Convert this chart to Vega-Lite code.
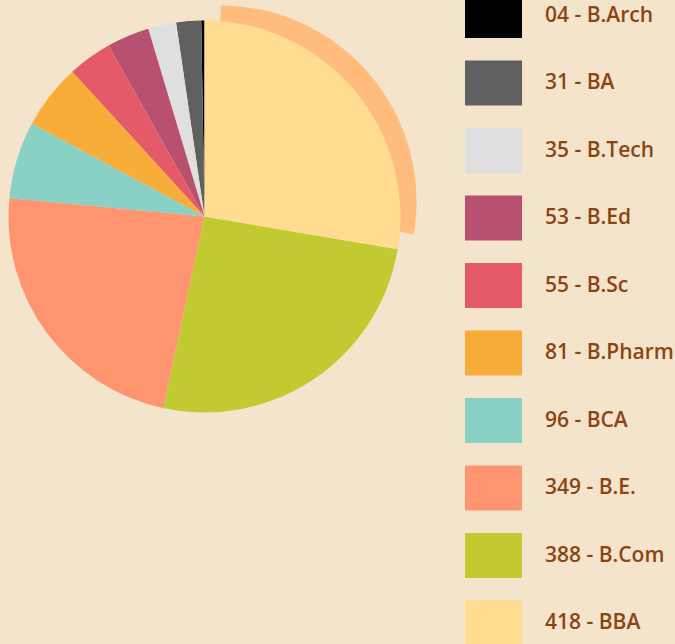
{
  "$schema": "https://vega.github.io/schema/vega-lite/v6.json",
  "width": 409,
  "height": 433,
  "padding": {"left": 0, "top": 0, "right": 266, "bottom": 211},
  "autosize": {"type": "none"},
  "background": "#F5E4CC",
  "config": {"view": {"stroke": null}},
  "data": {
    "values": [
      {"course": "B.Arch", "value": 4, "label": "04 - B.Arch"},
      {"course": "BA", "value": 31, "label": "31 - BA"},
      {"course": "B.Tech", "value": 35, "label": "35 - B.Tech"},
      {"course": "B.Ed", "value": 53, "label": "53 - B.Ed"},
      {"course": "B.Sc", "value": 55, "label": "55 - B.Sc"},
      {"course": "B.Pharm", "value": 81, "label": "81 - B.Pharm"},
      {"course": "BCA", "value": 96, "label": "96 - BCA"},
      {"course": "B.E.", "value": 349, "label": "349 - B.E."},
      {"course": "B.Com", "value": 388, "label": "388 - B.Com"},
      {"course": "BBA", "value": 418, "label": "418 - BBA"}
    ]
  },
  "encoding": {
    "theta": {"field": "value", "type": "quantitative", "stack": true},
    "order": {"field": "value", "type": "quantitative", "sort": "descending"}
  },
  "layer": [
    {
      "mark": {"type": "arc", "outerRadius": 196, "fill": "#FFBC7D", "x": {"expr": "width/2 + 16"}, "y": {"expr": "height/2 - 15"}},
      "encoding": {
        "opacity": {"condition": {"test": "datum.course === 'BBA'", "value": 1}, "value": 0}
      }
    },
    {
      "mark": {"type": "arc", "outerRadius": 196},
      "encoding": {
        "color": {
          "field": "label",
          "type": "nominal",
          "scale": {
            "domain": ["04 - B.Arch", "31 - BA", "35 - B.Tech", "53 - B.Ed", "55 - B.Sc", "81 - B.Pharm", "96 - BCA", "349 - B.E.", "388 - B.Com", "418 - BBA"],
            "range": ["#000000", "#606060", "#DFDFDF", "#B85070", "#E45A69", "#F8AD3B", "#8AD1C5", "#FF9470", "#C1CA31", "#FFDC8F"]
          },
          "legend": {
            "title": null,
            "orient": "none",
            "legendX": 465,
            "legendY": -13,
            "symbolType": "M-1,-0.79H1V0.79H-1Z",
            "symbolSize": 3249,
            "symbolStrokeWidth": 0,
            "symbolOpacity": 1,
            "labelFont": "Open Sans",
            "labelFontSize": 21,
            "labelFontWeight": 600,
            "labelColor": "#8B4513",
            "labelOffset": 23,
            "rowPadding": 15.5,
            "labelLimit": 300
          }
        }
      }
    }
  ]
}
